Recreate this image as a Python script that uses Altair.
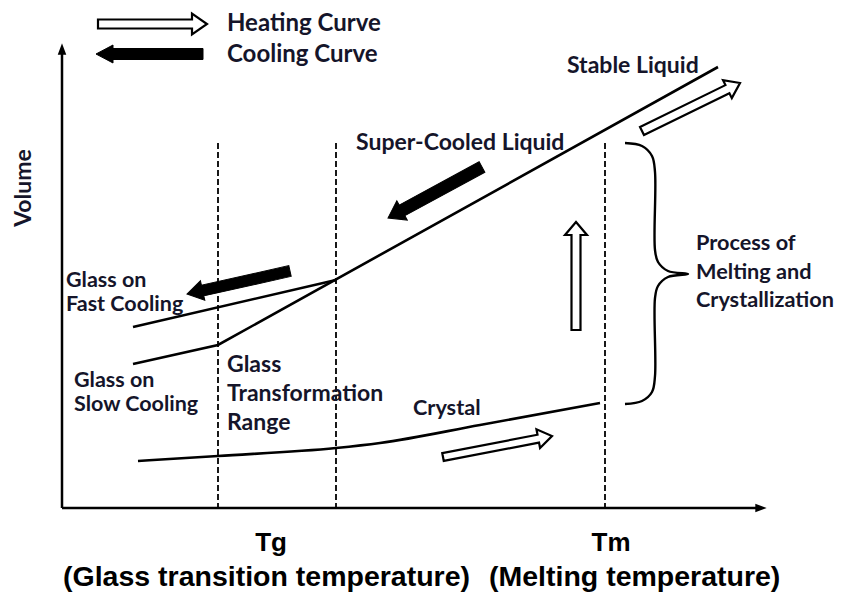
import altair as alt
import pandas as pd
import numpy as np

# ---------------- data (diagram units: T to the right, V drawn on a reversed scale) -------------
slow_T = [133, 218, 718]
slow_V = [364, 345, 67]
fast_T = [133, 336]
fast_V = [327, 280]
crys_T = [138, 218, 336, 380, 480, 600]
crys_V = [461, 456, 448, 443, 425, 403]

guide_T = [218, 336, 605]
guide_top = [143, 143, 143]
base_V = 508
origin_T = 62
yaxis_top = 50
xaxis_end = 760

brace_T = [625, 642, 652, 655, 655, 658, 668, 688, 668, 658, 655, 655, 652, 642, 625]
brace_V = [143, 146, 156, 172, 250, 262, 271, 274, 277, 286, 298, 376, 392, 401, 404]

# arrows: tail, tip, shaft width, head width, head length
heat_tail_T = [98, 642, 443, 576]
heat_tail_V = [24, 131, 457, 330]
heat_tip_T = [207, 740, 552, 576]
heat_tip_V = [24, 83, 436, 222]
heat_w = [9, 9, 8, 9]
heat_H = [21, 20, 19, 22]
heat_h = [15, 14, 14, 13]

cool_tail_T = [203, 482, 290]
cool_tail_V = [54, 167, 271]
cool_tip_T = [96, 388, 187]
cool_tip_V = [54, 218, 294]
cool_w = [11, 12, 11]
cool_H = [18, 22, 20]
cool_h = [17, 16, 16]

legend_txt = ["Heating Curve", "Cooling Curve"]
legend_T = [227, 227]
legend_V = [24, 55]

big_txt = ["Stable Liquid", "Super-Cooled Liquid", "Glass", "Transformation", "Range"]
big_T = [567, 356, 227, 227, 227]
big_V = [66, 143, 365, 394, 423]

two_txt = ["Glass on", "Fast Cooling", "Glass on", "Slow Cooling"]
two_T = [66, 66, 74, 74]
two_V = [281, 305, 381, 405]

small_txt = ["Crystal", "Process of", "Melting and", "Crystallization"]
small_T = [413, 696, 696, 696]
small_V = [408, 243, 272, 300]

tick_txt = ["Tg", "Tm"]
tick_T = [271, 611]
tick_V = [543, 543]
bottom_txt = ["(Glass transition temperature)", "(Melting temperature)"]
bottom_T = [63, 489]
bottom_V = [586, 586]

# ---------------- helpers -------------
xs = alt.Scale(domain=[8, 836], nice=False, zero=False)
ys = alt.Scale(domain=[8, 592], nice=False, zero=False, reverse=True)
X = lambda f="T": alt.X(f"{f}:Q", scale=xs, axis=None)
Y = lambda f="V": alt.Y(f"{f}:Q", scale=ys, axis=None)


def arrow_df(tT, tV, pT, pV, w, H, h):
    rows = []
    for a, b, c, d, ww, HH, hh in zip(tT, tV, pT, pV, w, H, h):
        L = float(np.hypot(c - a, d - b))
        hb = 1 - 2 * hh / L
        path = (f"M -1,{-ww/L:.4f} L {hb:.4f},{-ww/L:.4f} L {hb:.4f},{-HH/L:.4f} L 1,0 "
                f"L {hb:.4f},{HH/L:.4f} L {hb:.4f},{ww/L:.4f} L -1,{ww/L:.4f} Z")
        ang = float(np.degrees(np.arctan2(d - b, c - a))) % 360
        rows.append(dict(T=(a + c) / 2, V=(b + d) / 2, path=path, size=L * L, angle=ang))
    return pd.DataFrame(rows)


def txt_df(t, x, y):
    return pd.DataFrame(dict(T=x, V=y, t=t))


lines_df = pd.concat([
    pd.DataFrame(dict(T=slow_T, V=slow_V, s="slow", o=range(len(slow_T)))),
    pd.DataFrame(dict(T=fast_T, V=fast_V, s="fast", o=range(len(fast_T)))),
])
crys_df = pd.DataFrame(dict(T=crys_T, V=crys_V))
brace_df = pd.DataFrame(dict(T=brace_T, V=brace_V, o=range(len(brace_T))))
guide_df = pd.DataFrame(dict(T=guide_T, V=guide_top, V2=[base_V] * 3))
axes_df = pd.DataFrame(dict(T=[origin_T, origin_T], V=[base_V, base_V],
                            T2=[origin_T, xaxis_end], V2=[yaxis_top, base_V]))
head_path = "M -1,-0.75 L 1,0 L -1,0.75 Z"
axhead_df = pd.DataFrame(dict(T=[origin_T, xaxis_end + 1], V=[yaxis_top - 1, base_V],
                              angle=[270, 0]))

heat_df = arrow_df(heat_tail_T, heat_tail_V, heat_tip_T, heat_tip_V, heat_w, heat_H, heat_h)
cool_df = arrow_df(cool_tail_T, cool_tail_V, cool_tip_T, cool_tip_V, cool_w, cool_H, cool_h)

INK = "#15152a"
LFONT = "Lato"


def label_layer(df, size, align="left", font=LFONT, color=INK, angle=0):
    return alt.Chart(df).mark_text(align=align, baseline="middle", font=font,
                                   fontWeight="bold", fontSize=size, color=color,
                                   angle=angle).encode(x=X(), y=Y(), text="t:N")


layers = [
    alt.Chart(axes_df).mark_rule(color="black", strokeWidth=2.5).encode(
        x=X(), y=Y(), x2="T2:Q", y2="V2:Q"),
    alt.Chart(axhead_df).mark_point(shape=head_path, filled=True, fill="black",
                                    strokeWidth=0, size=130, opacity=1).encode(
        x=X(), y=Y(), angle=alt.Angle("angle:Q", scale=None)),
    alt.Chart(guide_df).mark_rule(color="black", strokeWidth=1.8, strokeDash=[6, 3]).encode(
        x=X(), y=Y(), y2="V2:Q"),
    alt.Chart(lines_df).mark_line(color="black", strokeWidth=2.6).encode(
        x=X(), y=Y(), detail="s:N", order="o:Q"),
    alt.Chart(crys_df).mark_line(color="black", strokeWidth=2.6, interpolate="monotone").encode(
        x=X(), y=Y()),
    alt.Chart(brace_df).mark_line(color="black", strokeWidth=2.4,
                                  interpolate="catmull-rom").encode(
        x=X(), y=Y(), order="o:Q"),
    alt.Chart(heat_df).mark_point(filled=True, fill="white", stroke="black",
                                  strokeWidth=2.2, opacity=1).encode(
        x=X(), y=Y(), shape=alt.Shape("path:N", scale=None),
        size=alt.Size("size:Q", scale=None), angle=alt.Angle("angle:Q", scale=None)),
    alt.Chart(cool_df).mark_point(filled=True, fill="black", stroke="black",
                                  strokeWidth=1, opacity=1).encode(
        x=X(), y=Y(), shape=alt.Shape("path:N", scale=None),
        size=alt.Size("size:Q", scale=None), angle=alt.Angle("angle:Q", scale=None)),
    label_layer(txt_df(legend_txt, legend_T, legend_V), 24),
    label_layer(txt_df(big_txt, big_T, big_V), 23),
    label_layer(txt_df(two_txt, two_T, two_V), 21.5),
    label_layer(txt_df(small_txt, small_T, small_V), 21.7),
    label_layer(txt_df(["Volume"], [24], [188]), 23, align="center", angle=270),
    label_layer(txt_df(tick_txt, tick_T, tick_V), 26, align="center",
                font="Liberation Sans", color="black"),
    alt.Chart(txt_df(bottom_txt, bottom_T, bottom_V)).mark_text(
        align="left", baseline="alphabetic", font="Liberation Sans", fontWeight="bold",
        fontSize=28.5, color="black").encode(x=X(), y=Y(), text="t:N"),
]

chart = alt.layer(*layers).properties(
    width=828, height=584, autosize=alt.AutoSizeParams(type="none"), padding=0
).configure_view(stroke=None)

chart.save("out.html", embed_options={"renderer": "svg", "actions": False})
